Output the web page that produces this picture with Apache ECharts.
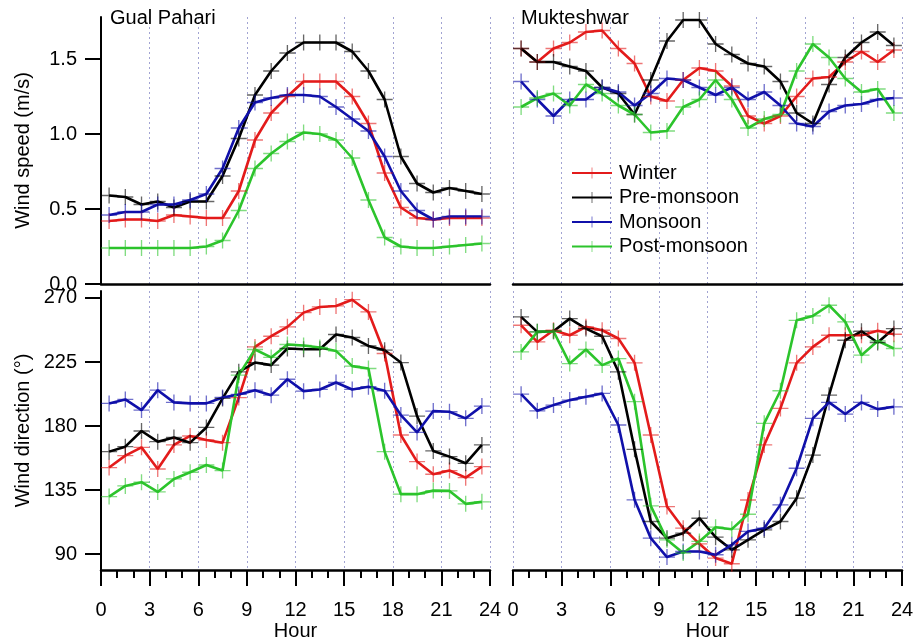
<!DOCTYPE html>
<html>
<head>
<meta charset="utf-8">
<script src="https://cdn.jsdelivr.net/npm/echarts@6/dist/echarts.min.js"></script>
<style>
  html, body { margin: 0; padding: 0; background: #fff; }
  #chart { width: 917px; height: 642px; }
</style>
</head>
<body>
<div id="chart"></div>
<script>
// Hour of day (bin centres)
const HOURS = [0.5, 1.5, 2.5, 3.5, 4.5, 5.5, 6.5, 7.5, 8.5, 9.5, 10.5, 11.5,
               12.5, 13.5, 14.5, 15.5, 16.5, 17.5, 18.5, 19.5, 20.5, 21.5, 22.5, 23.5];
const SEASONS = ['Winter', 'Pre-monsoon', 'Monsoon', 'Post-monsoon'];
const STATIONS = ['Gual Pahari', 'Mukteshwar'];
const HOUR_TICKS = [0, 3, 6, 9, 12, 15, 18, 21, 24];
const SPEED_TICKS = [0, 0.5, 1.0, 1.5];
const DIR_TICKS = [90, 135, 180, 225, 270];

// Gual Pahari — wind speed (m/s)
const GP_SPEED_WINTER = [0.42, 0.43, 0.43, 0.42, 0.46, 0.45, 0.44, 0.44, 0.62, 0.96, 1.14, 1.25,
                         1.35, 1.35, 1.35, 1.25, 1.07, 0.74, 0.51, 0.44, 0.43, 0.44, 0.44, 0.44];
const GP_SPEED_PRE    = [0.59, 0.58, 0.53, 0.55, 0.51, 0.55, 0.55, 0.72, 0.97, 1.26, 1.42, 1.54,
                         1.61, 1.61, 1.61, 1.55, 1.42, 1.23, 0.85, 0.67, 0.61, 0.64, 0.62, 0.60];
const GP_SPEED_MON    = [0.46, 0.48, 0.48, 0.53, 0.53, 0.56, 0.60, 0.77, 1.04, 1.21, 1.24, 1.26,
                         1.26, 1.25, 1.18, 1.10, 1.02, 0.85, 0.62, 0.49, 0.43, 0.45, 0.45, 0.45];
const GP_SPEED_POST   = [0.24, 0.24, 0.24, 0.24, 0.24, 0.24, 0.25, 0.29, 0.49, 0.77, 0.87, 0.95,
                         1.01, 1.00, 0.96, 0.84, 0.56, 0.31, 0.25, 0.24, 0.24, 0.25, 0.26, 0.27];

// Mukteshwar — wind speed (m/s)
const MK_SPEED_WINTER = [1.57, 1.48, 1.57, 1.61, 1.68, 1.69, 1.57, 1.47, 1.25, 1.22, 1.36, 1.44,
                         1.42, 1.32, 1.12, 1.07, 1.12, 1.25, 1.37, 1.38, 1.48, 1.55, 1.48, 1.56];
const MK_SPEED_PRE    = [1.57, 1.48, 1.48, 1.45, 1.42, 1.31, 1.27, 1.13, 1.36, 1.62, 1.76, 1.76,
                         1.60, 1.53, 1.47, 1.45, 1.35, 1.14, 1.07, 1.33, 1.51, 1.61, 1.68, 1.59];
const MK_SPEED_MON    = [1.35, 1.23, 1.12, 1.23, 1.23, 1.31, 1.28, 1.19, 1.27, 1.37, 1.36, 1.31,
                         1.26, 1.31, 1.23, 1.28, 1.19, 1.07, 1.05, 1.15, 1.19, 1.20, 1.23, 1.24];
const MK_SPEED_POST   = [1.18, 1.24, 1.27, 1.19, 1.33, 1.27, 1.19, 1.13, 1.01, 1.02, 1.18, 1.23,
                         1.36, 1.23, 1.04, 1.10, 1.13, 1.42, 1.60, 1.51, 1.37, 1.28, 1.30, 1.14];

// Gual Pahari — wind direction (degrees)
const GP_DIR_WINTER = [150.8, 159.2, 165.0, 149.8, 166.7, 173.0, 170.2, 168.3, 200.0, 235.6, 243.1, 249.7,
                       259.7, 263.7, 264.4, 268.8, 260.2, 231.0, 173.7, 155.0, 146.1, 148.7, 143.7, 151.5];
const GP_DIR_PRE    = [162.0, 165.5, 176.5, 169.0, 172.0, 168.3, 179.0, 199.4, 218.1, 224.6, 222.8, 234.5,
                       234.0, 234.0, 244.3, 242.2, 236.3, 233.3, 224.6, 187.0, 162.5, 158.5, 153.8, 166.7];
const GP_DIR_MON    = [195.9, 198.7, 191.2, 205.2, 196.6, 195.9, 195.9, 200.1, 202.2, 205.2, 201.7, 212.9,
                       204.5, 205.7, 210.6, 205.7, 207.6, 204.8, 187.7, 175.5, 190.5, 190.0, 185.4, 194.0];
const GP_DIR_POST   = [130.4, 137.9, 140.5, 133.7, 142.8, 147.5, 152.6, 148.7, 215.8, 233.8, 228.2, 237.3,
                       236.6, 235.2, 232.8, 222.1, 220.4, 162.0, 132.1, 132.1, 134.6, 134.4, 125.3, 126.7];

// Mukteshwar — wind direction (degrees)
const MK_DIR_WINTER = [250.8, 239.1, 247.3, 243.8, 249.7, 247.3, 241.5, 224.4, 173.7, 123.4, 108.2, 97.2,
                       87.2, 83.2, 128.0, 166.7, 192.4, 224.4, 235.6, 243.8, 243.8, 243.8, 246.9, 244.5];
const MK_DIR_PRE    = [256.7, 246.2, 246.6, 255.5, 248.5, 243.1, 218.1, 163.6, 112.9, 101.2, 104.7, 115.2,
                       101.9, 93.0, 100.0, 107.0, 112.9, 129.3, 159.6, 201.7, 240.3, 246.6, 238.7, 248.5];
const MK_DIR_MON    = [202.4, 190.7, 194.7, 198.2, 200.6, 202.9, 180.7, 128.1, 101.2, 87.9, 91.8, 91.8,
                       89.5, 96.5, 105.9, 108.2, 124.6, 150.3, 185.4, 196.6, 188.4, 196.6, 191.9, 193.5];
const MK_DIR_POST   = [232.1, 246.2, 246.6, 223.9, 233.8, 222.8, 227.4, 197.1, 123.9, 100.0, 90.7, 98.9,
                       108.9, 107.5, 118.0, 181.9, 204.8, 254.3, 257.4, 264.9, 253.2, 229.8, 239.8, 234.5];

const COLORS = ['#e31b1b', '#000000', '#1010aa', '#2cc42c'];
const FONT = '"Liberation Sans", Arial, sans-serif';
const FS = 20;
const PLUS = 'path://M5.5,0h1v5.5h5.5v1h-5.5v5.5h-1v-5.5h-5.5v-1h5.5z';

const panels = [
  { grid: 0, values: [GP_SPEED_WINTER, GP_SPEED_PRE, GP_SPEED_MON, GP_SPEED_POST] },
  { grid: 1, values: [MK_SPEED_WINTER, MK_SPEED_PRE, MK_SPEED_MON, MK_SPEED_POST] },
  { grid: 2, values: [GP_DIR_WINTER, GP_DIR_PRE, GP_DIR_MON, GP_DIR_POST] },
  { grid: 3, values: [MK_DIR_WINTER, MK_DIR_PRE, MK_DIR_MON, MK_DIR_POST] }
];

const grids = [
  { left: 101, top: 17, width: 389, height: 267 },
  { left: 513, top: 17, width: 389, height: 267 },
  { left: 101, top: 291, width: 389, height: 280 },
  { left: 513, top: 291, width: 389, height: 280 }
];

const dotted = { show: true, lineStyle: { color: '#a2a4d2', type: [2, 3], width: 1 } };

function hourAxis(i) {
  const bottomRow = i >= 2;
  return {
    type: 'value', gridIndex: i, min: 0, max: 24, interval: 3,
    axisLine: { show: true, onZero: false, lineStyle: { color: '#000', width: 2.5 } },
    axisTick: { show: bottomRow, length: 16, lineStyle: { color: '#000', width: 2 } },
    minorTick: { show: bottomRow, splitNumber: 3, length: 8, lineStyle: { color: '#000', width: 2 } },
    axisLabel: {
      show: bottomRow, margin: 30, fontFamily: FONT, fontSize: FS, color: '#000',
      customValues: HOUR_TICKS
    },
    splitLine: dotted,
    name: bottomRow ? 'Hour' : '',
    nameLocation: 'middle', nameGap: 51,
    nameTextStyle: { fontFamily: FONT, fontSize: FS, color: '#000' }
  };
}

function valueAxis(i) {
  const speed = i < 2;
  const leftCol = i % 2 === 0;
  return {
    type: 'value', gridIndex: i,
    min: speed ? 0 : 78.8,
    max: speed ? 1.78 : 274.9,
    show: leftCol,
    axisLine: { show: true, lineStyle: { color: '#000', width: 2 } },
    axisTick: { show: true, length: 16, lineStyle: { color: '#000', width: 2 },
                customValues: speed ? SPEED_TICKS : DIR_TICKS },
    axisLabel: {
      margin: 24, fontFamily: FONT, fontSize: FS, color: '#000',
      customValues: speed ? SPEED_TICKS : DIR_TICKS,
      formatter: v => speed ? v.toFixed(1) : String(v)
    },
    splitLine: { show: false },
    name: leftCol ? (speed ? 'Wind speed (m/s)' : 'Wind direction (°)') : '',
    nameLocation: 'middle', nameGap: 68,
    nameTextStyle: { fontFamily: FONT, fontSize: FS, color: '#000' }
  };
}

const series = [];
panels.forEach(p => {
  p.values.forEach((vals, k) => {
    series.push({
      name: SEASONS[k], type: 'line',
      xAxisIndex: p.grid, yAxisIndex: p.grid,
      data: HOURS.map((h, j) => [h, vals[j]]),
      symbol: PLUS, symbolSize: 16,
      lineStyle: { color: COLORS[k], width: 2.6 },
      itemStyle: { color: COLORS[k], opacity: 0.6 },
      emphasis: { disabled: true },
      animation: false
    });
  });
});

const chart = echarts.init(document.getElementById('chart'), null, { renderer: 'canvas' });
chart.setOption({
  backgroundColor: '#fff',
  animation: false,
  title: [
    { text: STATIONS[0], left: 105, top: 3,
      textStyle: { fontFamily: FONT, fontSize: FS, fontWeight: 'normal', color: '#000' } },
    { text: STATIONS[1], left: 516, top: 3,
      textStyle: { fontFamily: FONT, fontSize: FS, fontWeight: 'normal', color: '#000' } }
  ],
  legend: {
    data: SEASONS, orient: 'vertical', left: 566, top: 158,
    itemWidth: 40, itemHeight: 14, itemGap: 4.5,
    textStyle: { fontFamily: FONT, fontSize: FS, color: '#000', lineHeight: 20, padding: [0, 0, 0, 2] },
    selectedMode: false
  },
  grid: grids,
  xAxis: [0, 1, 2, 3].map(hourAxis),
  yAxis: [0, 1, 2, 3].map(valueAxis),
  series: series
});
</script>
</body>
</html>
